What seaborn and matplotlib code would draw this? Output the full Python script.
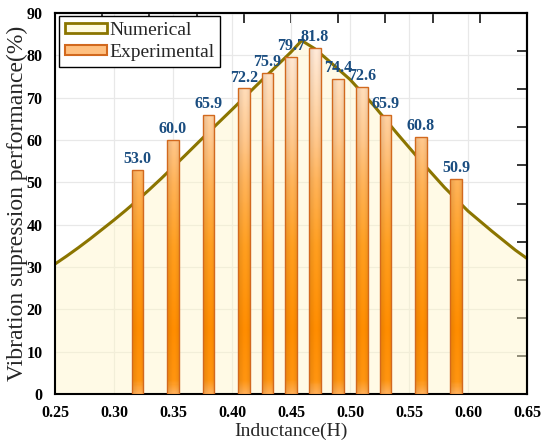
import numpy as np
import pandas as pd
import matplotlib
matplotlib.use("Agg")
import matplotlib.pyplot as plt
import seaborn as sns
from matplotlib.colors import LinearSegmentedColormap
from matplotlib.patches import Patch
from matplotlib.ticker import MultipleLocator

# ---------------- data ----------------
bar_x = [0.32, 0.35, 0.38, 0.41, 0.43, 0.45, 0.47, 0.49, 0.51, 0.53, 0.56, 0.59]
bar_y = [53.0, 60.0, 65.9, 72.2, 75.9, 79.7, 81.8, 74.4, 72.6, 65.9, 60.8, 50.9]

num_x = [0.25, 0.26, 0.27, 0.28, 0.29, 0.30, 0.31, 0.32, 0.33, 0.34,
         0.36, 0.38, 0.40, 0.42, 0.44, 0.45, 0.459,
         0.47, 0.48, 0.50, 0.52, 0.54, 0.56, 0.58, 0.60, 0.62, 0.64, 0.65]
num_y = [30.7, 32.6, 34.6, 36.7, 38.9, 41.1, 43.4, 45.8, 48.3, 50.9,
         56.3, 61.8, 67.2, 72.7, 78.1, 80.8, 83.5,
         81.6, 79.2, 74.3, 68.2, 61.5, 55.0, 48.8, 43.2, 38.5, 34.0, 32.0]

x_label = "Inductance(H)"
y_label = "Vibration supression performance(%)"
legend_labels = ["Numerical", "Experimental"]

# ---------------- style ----------------
sns.set_style("white")
plt.rcParams["font.family"] = ["Liberation Serif", "DejaVu Serif"]

fig = plt.figure(figsize=(5.44, 4.44), dpi=100)
ax = fig.add_axes([0.101, 0.1126, 0.868, 0.858])

line_col = "#8b7500"
fill_col = "#fff6c8"
edge_col = "#d2691e"
label_col = "#1a4d80"

df_num = pd.DataFrame({"x": num_x, "y": num_y})
df_bar = pd.DataFrame({"x": bar_x, "y": bar_y})

# fill under numerical curve
ax.fill_between(df_num["x"], 0, df_num["y"], color=fill_col, alpha=0.45,
                lw=0, zorder=1)
sns.lineplot(data=df_num, x="x", y="y", color=line_col, lw=2.2, ax=ax,
             zorder=2, sort=False)

# bars
sns.barplot(data=df_bar, x="x", y="y", native_scale=True, width=0.5,
            color="#ffa040", edgecolor=edge_col, linewidth=1.0, ax=ax,
            zorder=3, saturation=1)

# gradient fill for bars
nodes = [(0.0, "#ffae55"), (3 / 90, "#ff9410"), (15 / 90, "#ff8c00"),
         (35 / 90, "#ff9e20"), (50 / 90, "#ffb258"), (60 / 90, "#ffc68a"),
         (70 / 90, "#ffd8b0"), (82 / 90, "#ffe9d8"), (1.0, "#fff2e8")]
cmap = LinearSegmentedColormap.from_list("barg", nodes)
for p in list(ax.patches):
    x0, y0 = p.get_x(), p.get_y()
    w, h = p.get_width(), p.get_height()
    ny, nx = 200, 40
    yy = np.linspace(0, h, ny)
    cols = cmap(yy / 90.0)[:, :3]
    xs = np.linspace(0, 1, nx)
    shade = 0.93 + 0.08 * np.exp(-((xs - 0.6) / 0.3) ** 2)
    img = np.clip(cols[:, None, :] * shade[None, :, None], 0, 1)
    im = ax.imshow(img, extent=[x0, x0 + w, y0, y0 + h], origin="lower",
                   aspect="auto", interpolation="bilinear", zorder=3)
    im.set_clip_path(p)
    p.set_facecolor("none")
    p.set_zorder(3.5)

# value labels
for xv, yv in zip(bar_x, bar_y):
    ax.annotate(f"{yv:.1f}", (xv, yv), xytext=(0, 2), textcoords="offset points",
                ha="center", va="bottom", color=label_col, fontsize=11.5,
                fontweight="bold", zorder=5)

# axes
ax.set_xlim(0.25, 0.65)
ax.set_ylim(0, 90)
xt = np.arange(0.25, 0.651, 0.05)
ax.set_xticks(xt)
ax.set_xticklabels([f"{v:.2f}" for v in xt])
ax.set_yticks(np.arange(0, 91, 10))
ax.xaxis.set_minor_locator(MultipleLocator(0.025))
ax.yaxis.set_minor_locator(MultipleLocator(5))
ax.grid(True, which="major", color="#e8e8e8", lw=0.9)
ax.set_axisbelow(True)
ax.tick_params(which="major", direction="in", length=7, width=1.3,
               labelsize=11.5, colors="black")
ax.tick_params(axis="x", which="major", pad=8)
ax.tick_params(axis="y", which="major", pad=9)
ax.tick_params(which="minor", direction="in", length=4, width=1.1)
for lab in ax.get_xticklabels() + ax.get_yticklabels():
    lab.set_fontweight("bold")
ax.set_xlabel(x_label, fontsize=14, labelpad=1)
ax.set_ylabel(y_label, fontsize=17)
ax.yaxis.set_label_coords(-0.058, 0.5)
for s in ax.spines.values():
    s.set_linewidth(1.5)
    s.set_color("black")
    s.set_visible(True)

# top / right ticks
top = ax.secondary_xaxis("top")
tt = np.arange(0.25, 0.651, 0.04)
top.set_xticks(tt, labels=["" for _ in tt])
top.tick_params(direction="in", length=7, width=1.3)
top.spines["top"].set_linewidth(1.5)
right = ax.secondary_yaxis("right")
rt = np.arange(0, 91, 9)
right.set_yticks(rt, labels=["" for _ in rt])
right.tick_params(direction="in", length=7, width=1.3)
right.spines["right"].set_linewidth(1.5)

# legend
handles = [Patch(facecolor="#fffbe0", edgecolor=line_col, lw=2.0, label=legend_labels[0]),
           Patch(facecolor="#ffc080", edgecolor=edge_col, lw=1.5, label=legend_labels[1])]
leg = ax.legend(handles=handles, loc="upper left", bbox_to_anchor=(0.008, 0.992),
                borderaxespad=0, fontsize=14, frameon=True, fancybox=False,
                framealpha=1, edgecolor="black", handlelength=2.2,
                handleheight=0.45, handletextpad=0.1, borderpad=0.3,
                labelspacing=0.25)
leg.get_frame().set_linewidth(1.0)
leg.set_zorder(10)

fig.savefig("out.png", dpi=100)
